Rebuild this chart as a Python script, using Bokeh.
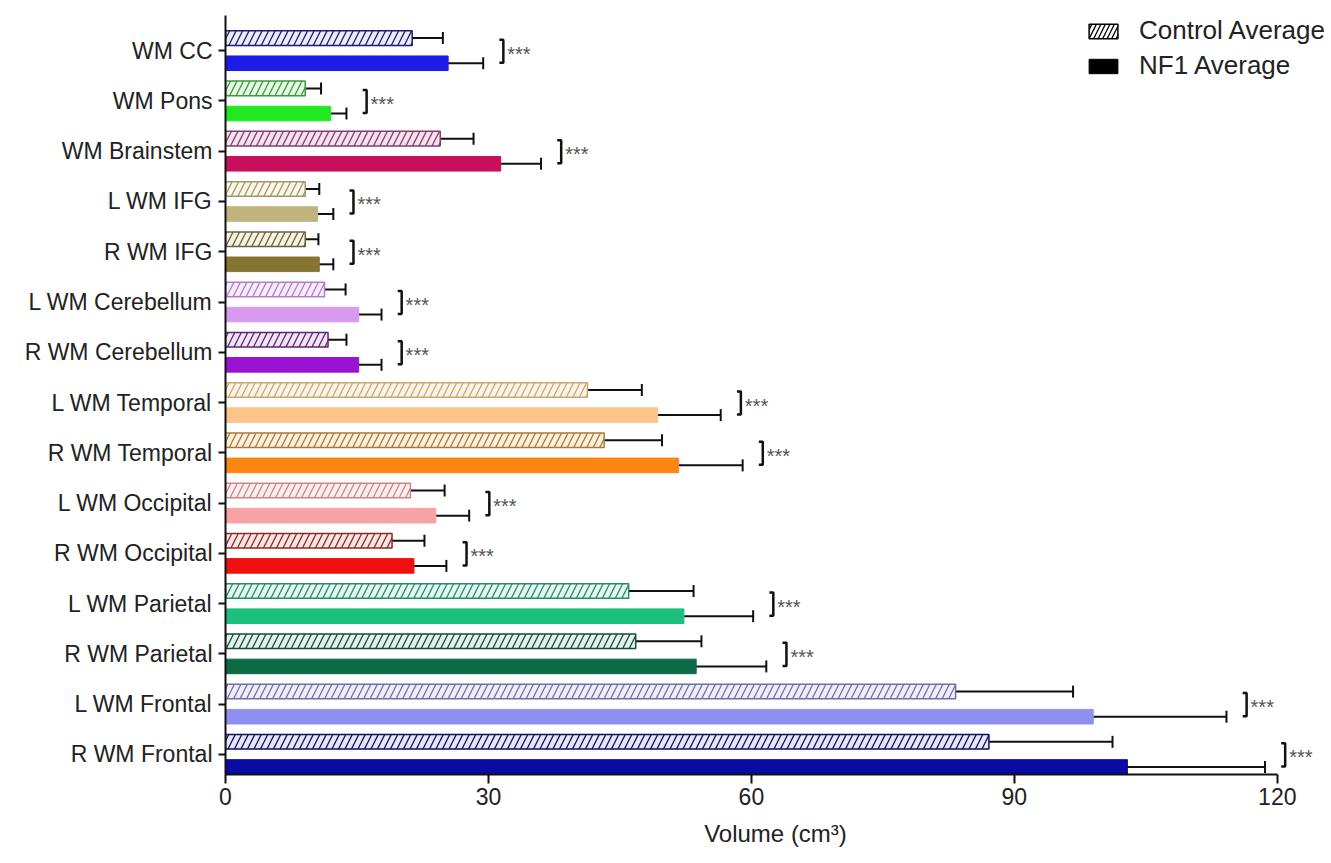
from bokeh.plotting import figure
from bokeh.models import (ColumnDataSource, FixedTicker, Whisker, TeeHead, Legend, LegendItem)
from bokeh.core.properties import value
from bokeh.embed import file_html
from bokeh.resources import INLINE

categories = ["WM CC", "WM Pons", "WM Brainstem", "L WM IFG", "R WM IFG",
              "L WM Cerebellum", "R WM Cerebellum", "L WM Temporal", "R WM Temporal",
              "L WM Occipital", "R WM Occipital", "L WM Parietal", "R WM Parietal",
              "L WM Frontal", "R WM Frontal"]
control_avg = [21.3, 9.1, 24.5, 9.1, 9.1, 11.3, 11.7, 41.3, 43.2, 21.1, 19.0, 46.0, 46.8, 83.3, 87.1]
control_err = [3.5, 1.8, 3.8, 1.6, 1.5, 2.4, 2.1, 6.2, 6.6, 3.9, 3.7, 7.4, 7.5, 13.4, 14.1]
nf1_avg = [25.4, 12.0, 31.4, 10.5, 10.7, 15.2, 15.2, 49.3, 51.7, 24.0, 21.5, 52.3, 53.7, 99.0, 102.9]
nf1_err = [4.0, 1.8, 4.6, 1.8, 1.6, 2.6, 2.6, 7.2, 7.3, 3.8, 3.7, 7.9, 8.0, 15.2, 15.7]
significance = ["***"] * 15
x_ticks = [0, 30, 60, 90, 120]

nf1_color = ["#1c1ce6", "#22e822", "#c80f5c", "#bfb47c", "#857530", "#d79af0", "#9a12d4",
             "#fcc48a", "#fc8612", "#f7a3a3", "#ef1010", "#1cc07e", "#0c6a44", "#8f8ff2", "#0a0aa6"]
ctrl_fill = ["#ececf8", "#e6f8e6", "#f8e0ee", "#faf7e6", "#f7f3e0", "#f7eafb", "#f2e4f7",
             "#fdf3e6", "#fdf0dc", "#fdeeee", "#fbe4e4", "#e4f7f0", "#e2f2ea", "#eeeefb", "#e6e6f4"]
ctrl_hatch = ["#1c1c70", "#3a9a3a", "#80406a", "#a09670", "#6a6040", "#b080c0", "#5a2a70",
              "#c8a878", "#a87a3a", "#c88888", "#8a2a2a", "#2a8a6a", "#1a4a3a", "#7070a8", "#101060"]

n = len(categories)
ypos = [n - 1 - i for i in range(n)]
off = 0.25
bar_h = 0.29

ctrl_src = ColumnDataSource(dict(
    y=[v + off for v in ypos], right=control_avg,
    lo=[a - e for a, e in zip(control_avg, control_err)],
    hi=[a + e for a, e in zip(control_avg, control_err)],
    fill=ctrl_fill, hatch=ctrl_hatch))
nf1_src = ColumnDataSource(dict(
    y=[v - off for v in ypos], right=nf1_avg,
    lo=[a - e for a, e in zip(nf1_avg, nf1_err)],
    hi=[a + e for a, e in zip(nf1_avg, nf1_err)],
    color=nf1_color))

p = figure(width=1331, height=863, x_range=(0, 125.5), y_range=(-0.4, 14.7),
           output_backend="svg", toolbar_location=None,
           min_border_left=225, min_border_right=6, min_border_top=15, min_border_bottom=89)
p.outline_line_color = None
p.xgrid.visible = False
p.ygrid.visible = False
p.background_fill_color = "white"

p.hbar(y="y", left=0, right="right", height=bar_h, source=ctrl_src,
       fill_color="fill", line_color="hatch", line_width=1.5,
       hatch_pattern="/", hatch_color="hatch", hatch_scale=13, hatch_weight=1.3)
p.hbar(y="y", left=0, right="right", height=bar_h, source=nf1_src,
       fill_color="color", line_color="color", line_width=1)

for src in (ctrl_src, nf1_src):
    w = Whisker(source=src, base="y", lower="lo", upper="hi", dimension="width",
                line_color="#111111", line_width=2,
                upper_head=TeeHead(size=12, line_width=2, line_color="#111111"),
                lower_head=TeeHead(size=12, line_width=2, line_color="#111111"))
    p.add_layout(w)

# significance brackets
bx = [max(c + ce, f + fe) + 2.3 for c, ce, f, fe in zip(control_avg, control_err, nf1_avg, nf1_err)]
tick = 0.45
xs = [[b - tick, b, b, b - tick] for b in bx]
ys = [[y + off - 0.03, y + off - 0.03, y - off + 0.01, y - off + 0.01] for y in ypos]
p.multi_line(xs=xs, ys=ys, line_color="#111111", line_width=2.5)
p.text(x=[b + 0.45 for b in bx], y=[y - 0.06 for y in ypos], text=significance,
       text_font=value("Liberation Sans"), text_font_size="20px", text_color="#555555",
       text_align="left", text_baseline="middle")

# axes
p.xaxis.bounds = (0, 120)
p.xaxis.ticker = FixedTicker(ticks=x_ticks)
p.xaxis.minor_tick_line_color = None
p.xaxis.major_tick_out = 9
p.xaxis.major_tick_in = 0
p.xaxis.axis_label = "Volume (cm³)"
p.xaxis.axis_label_text_font_style = "normal"
p.xaxis.axis_label_text_font = "Liberation Sans"
p.xaxis.axis_label_text_font_size = "24px"
p.xaxis.axis_label_standoff = 12
p.xaxis.major_label_text_font = "Liberation Sans"
p.xaxis.major_label_text_font_size = "23px"
p.xaxis.major_label_standoff = 4

p.yaxis.ticker = FixedTicker(ticks=ypos)
p.yaxis.major_label_overrides = {y: c for y, c in zip(ypos, categories)}
p.yaxis.minor_tick_line_color = None
p.yaxis.major_tick_out = 7
p.yaxis.major_tick_in = 0
p.yaxis.major_label_text_font = "Liberation Sans"
p.yaxis.major_label_text_font_size = "23px"
p.yaxis.major_label_standoff = 6

for ax in (p.xaxis, p.yaxis):
    ax.axis_line_width = 2
    ax.axis_line_color = "#111111"
    ax.major_tick_line_width = 2
    ax.major_tick_line_color = "#111111"
    ax.major_label_text_color = "#222222"
    ax.axis_label_text_color = "#222222"

# legend (proxy glyphs placed outside the visible range)
leg_ctrl = p.hbar(y=[-50], left=[0], right=[1], height=0.3, fill_color="white", line_color="black",
                  line_width=1.5, hatch_pattern="/", hatch_color="black", hatch_scale=9, hatch_weight=1.3)
leg_nf1 = p.hbar(y=[-50], left=[0], right=[1], height=0.3, fill_color="black", line_color="black")
legend = Legend(items=[LegendItem(label="Control Average", renderers=[leg_ctrl]),
                       LegendItem(label="NF1 Average", renderers=[leg_nf1])],
                location="top_right", margin=0, padding=0, spacing=4,
                glyph_width=36, glyph_height=18, label_standoff=18,
                label_text_font="Liberation Sans", label_text_font_size="26px",
                label_text_color="#222222", background_fill_alpha=0, border_line_alpha=0)
p.add_layout(legend)

open("out.html", "w").write(file_html(p, INLINE))
